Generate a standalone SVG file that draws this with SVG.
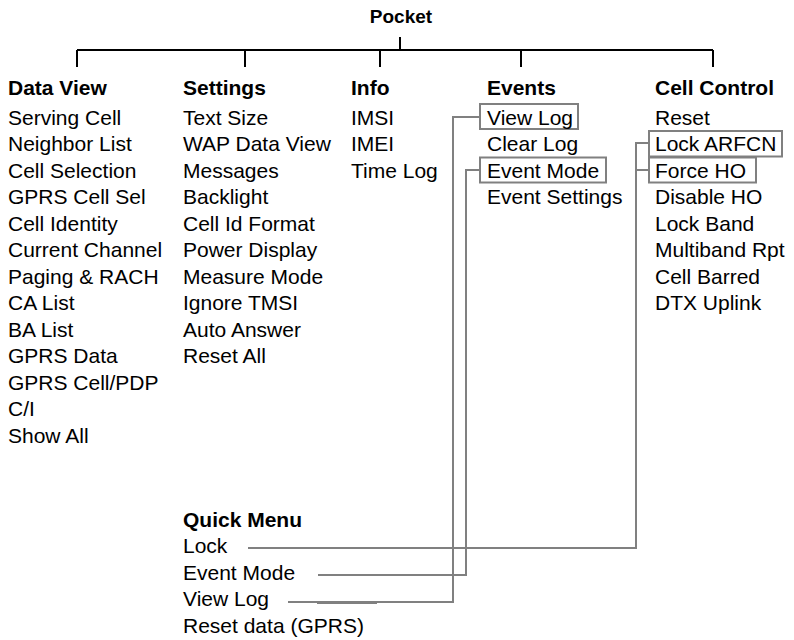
<svg xmlns="http://www.w3.org/2000/svg" width="794" height="640" viewBox="0 0 794 640">
<style>
text{font-family:"Liberation Sans",Arial,sans-serif;font-size:21px;fill:#000}
.h{font-weight:bold}
.tree{stroke:#000;stroke-width:2;fill:none}
.con{stroke:#808080;stroke-width:2;fill:none}
.box{stroke:#808080;stroke-width:2;fill:none}
</style>
<rect width="794" height="640" fill="#fff"/>
<g id="connectors">
<path class="tree" d="M400,37V51M77,50H713M77,50V67M245,50V67M380,50V67M521,50V67M713,50V67"/>
<path class="con" d="M480,117H453V602H288"/>
<path class="con" d="M317,603H377"/>
<path class="con" d="M480,170H466V575H318"/>
<path class="con" d="M649,143H636V548H248M649,170H636"/>
</g>
<g id="pocket"><text class="h" x="401" y="23" text-anchor="middle" style="font-size:19px">Pocket</text></g>
<g id="dataview">
<text class="h" x="8" y="95">Data View</text>
<text x="8" y="124.5">Serving Cell</text>
<text x="8" y="151">Neighbor List</text>
<text x="8" y="177.5">Cell Selection</text>
<text x="8" y="204">GPRS Cell Sel</text>
<text x="8" y="230.5">Cell Identity</text>
<text x="8" y="257">Current Channel</text>
<text x="8" y="283.5">Paging &amp; RACH</text>
<text x="8" y="310">CA List</text>
<text x="8" y="336.5">BA List</text>
<text x="8" y="363">GPRS Data</text>
<text x="8" y="389.5">GPRS Cell/PDP</text>
<text x="8" y="416">C/I</text>
<text x="8" y="442.5">Show All</text>
</g>
<g id="settings">
<text class="h" x="183" y="95">Settings</text>
<text x="183" y="124.5">Text Size</text>
<text x="183" y="151">WAP Data View</text>
<text x="183" y="177.5">Messages</text>
<text x="183" y="204">Backlight</text>
<text x="183" y="230.5">Cell Id Format</text>
<text x="183" y="257">Power Display</text>
<text x="183" y="283.5">Measure Mode</text>
<text x="183" y="310">Ignore TMSI</text>
<text x="183" y="336.5">Auto Answer</text>
<text x="183" y="363">Reset All</text>
</g>
<g id="info">
<text class="h" x="351" y="95">Info</text>
<text x="351" y="124.5">IMSI</text>
<text x="351" y="151">IMEI</text>
<text x="351" y="177.5">Time Log</text>
</g>
<g id="events">
<text class="h" x="487" y="95">Events</text>
<rect class="box" x="480" y="104" width="98" height="25"/>
<text x="487" y="124.5">View Log</text>
<text x="487" y="151">Clear Log</text>
<rect class="box" x="480" y="157.5" width="126" height="25"/>
<text x="487" y="177.5">Event Mode</text>
<text x="487" y="204">Event Settings</text>
</g>
<g id="cellcontrol">
<text class="h" x="655" y="95">Cell Control</text>
<text x="655" y="124.5">Reset</text>
<rect class="box" x="649" y="131" width="133" height="25.5"/>
<text x="655" y="151">Lock ARFCN</text>
<rect class="box" x="649" y="157.5" width="107" height="25"/>
<text x="655" y="177.5">Force HO</text>
<text x="655" y="204">Disable HO</text>
<text x="655" y="230.5">Lock Band</text>
<text x="655" y="257">Multiband Rpt</text>
<text x="655" y="283.5">Cell Barred</text>
<text x="655" y="310">DTX Uplink</text>
</g>
<g id="quickmenu">
<text class="h" x="183" y="526.5">Quick Menu</text>
<text x="183" y="553">Lock</text>
<text x="183" y="579.5">Event Mode</text>
<text x="183" y="606">View Log</text>
<text x="183" y="632.5">Reset data (GPRS)</text>
</g>
</svg>
